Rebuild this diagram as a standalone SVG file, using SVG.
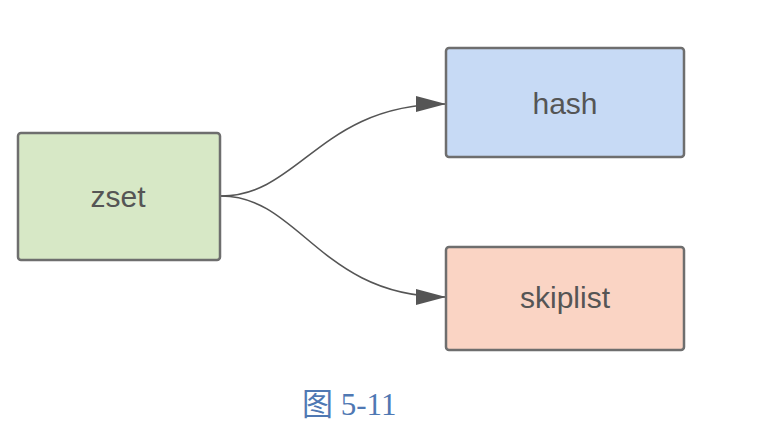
<svg xmlns="http://www.w3.org/2000/svg" width="765" height="428" viewBox="0 0 765 428">
<style>
.box{stroke:#6e6e6e;stroke-width:2.5}
.lbl{font-family:"Liberation Sans",Arial,sans-serif;font-size:30px;fill:#555;text-anchor:middle}
.edge{fill:none;stroke:#555;stroke-width:1.6}
.cap{font-family:"Liberation Serif","Noto Sans CJK SC",serif;font-size:31px;fill:#4f78b3}
</style>
<defs>
<marker id="arr" markerWidth="30" markerHeight="20" refX="30" refY="10" orient="auto" markerUnits="userSpaceOnUse">
<path d="M0,2 L30,10 L0,18 Z" fill="#555"/>
</marker>
</defs>
<rect width="765" height="428" fill="#fff"/>
<g id="connectors">
<path class="edge" d="M221,196 C300,196 320,104 446,104" marker-end="url(#arr)"/>
<path class="edge" d="M221,196 C300,196 320,297 446,297" marker-end="url(#arr)"/>
</g>
<g id="zset">
<rect class="box" x="18" y="133" width="202" height="127" rx="3" fill="#d7e8c6"/>
<text class="lbl" x="118" y="207">zset</text>
</g>
<g id="hash">
<rect class="box" x="446" y="48" width="238" height="109" rx="3" fill="#c7daf5"/>
<text class="lbl" x="565" y="114">hash</text>
</g>
<g id="skiplist">
<rect class="box" x="446" y="247" width="238" height="103" rx="3" fill="#fad4c4"/>
<text class="lbl" x="565" y="308">skiplist</text>
</g>
<text class="cap" x="302" y="415">图 5-11</text>
</svg>
